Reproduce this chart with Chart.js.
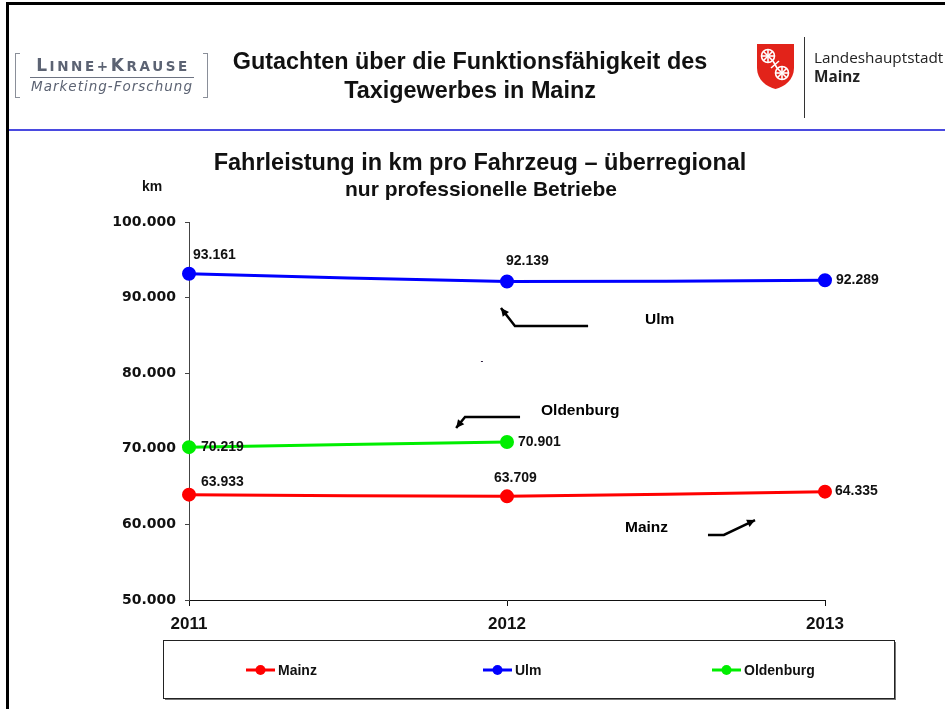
<!DOCTYPE html>
<html>
<head>
<meta charset="utf-8">
<script src="https://cdn.jsdelivr.net/npm/chart.js@4.4.1/dist/chart.umd.min.js"></script>
<style>
  html, body { margin: 0; padding: 0; background: #fff; }
  body { width: 945px; height: 709px; position: relative; overflow: hidden; font-family: "Liberation Sans", Arial, sans-serif; }
  #chart { position: absolute; left: 0; top: 0; }
  .abs { position: absolute; }
  .frame-top { left: 6px; top: 2px; width: 939px; height: 3px; background: #000; }
  .frame-left { left: 6px; top: 2px; width: 3px; height: 707px; background: #000; }
  .blue-rule { left: 9px; top: 129px; width: 936px; height: 2px; background: #4a4ae0; }
  .head-title { left: 170px; width: 600px; top: 47px; text-align: center; font-weight: bold; font-size: 23.4px; line-height: 29px; color: #111; }
  .chart-title { left: 0; width: 960px; top: 148px; text-align: center; font-weight: bold; font-size: 23.5px; line-height: 28px; color: #111; }
  .chart-sub { left: 0; width: 962px; top: 177px; text-align: center; font-weight: bold; font-size: 21px; line-height: 24px; color: #111; }
  .km { left: 142px; top: 178px; font-weight: bold; font-size: 14px; line-height: 16px; color: #111; }
  .lk-brk { top: 53px; width: 4px; height: 43px; border: 1px solid #8a8f99; }
  .lk-brk.l { left: 15px; border-right: none; }
  .lk-brk.r { left: 203px; border-left: none; }
  .lk-name { left: 28px; top: 55px; width: 170px; text-align: center; font-family: "DejaVu Sans", sans-serif; font-weight: bold; font-size: 13.5px; letter-spacing: 2.6px; line-height: 20px; color: #5c6373; }
  .lk-name b { font-size: 17px; }
  .lk-rule { left: 30px; top: 77px; width: 164px; height: 1px; background: #6d7382; }
  .lk-sub { left: 28px; top: 78px; width: 168px; text-align: center; font-family: "DejaVu Sans", sans-serif; font-style: italic; font-size: 13.5px; letter-spacing: 1px; line-height: 16px; color: #5c6373; }
  .mz-bar { left: 804px; top: 37px; width: 1px; height: 81px; background: #333; }
  .mz-t1 { left: 814px; top: 47px; font-family: "Open Sans", sans-serif; font-size: 15.3px; line-height: 20px; color: #222; }
  .mz-t2 { left: 814px; top: 66px; font-family: "Open Sans", sans-serif; font-weight: bold; font-size: 15.3px; line-height: 20px; color: #222; }
</style>
</head>
<body>
<canvas id="chart" width="945" height="709"></canvas>

<div class="abs frame-top"></div>
<div class="abs frame-left"></div>
<div class="abs blue-rule"></div>

<div class="abs lk-brk l"></div>
<div class="abs lk-brk r"></div>
<div class="abs lk-name"><b>L</b>INNE+<b>K</b>RAUSE</div>
<div class="abs lk-rule"></div>
<div class="abs lk-sub">Marketing-Forschung</div>

<div class="abs head-title">Gutachten über die Funktionsfähigkeit des<br>Taxigewerbes in Mainz</div>

<svg class="abs" style="left:757px;top:44px" width="37" height="45" viewBox="0 0 37 45">
  <path d="M0 0 H37 V24 C37 36 27 43 18.5 45 C10 43 0 36 0 24 Z" fill="#e2231a"/>
  <g stroke="#fff" stroke-width="1.6" fill="none">
    <circle cx="11" cy="12" r="6.5"/>
    <circle cx="25" cy="29" r="6.5"/>
    <line x1="11" y1="5.5" x2="11" y2="18.5"/><line x1="4.5" y1="12" x2="17.5" y2="12"/>
    <line x1="6.5" y1="7.5" x2="15.5" y2="16.5"/><line x1="15.5" y1="7.5" x2="6.5" y2="16.5"/>
    <line x1="25" y1="22.5" x2="25" y2="35.5"/><line x1="18.5" y1="29" x2="31.5" y2="29"/>
    <line x1="20.5" y1="24.5" x2="29.5" y2="33.5"/><line x1="29.5" y1="24.5" x2="20.5" y2="33.5"/>
    <line x1="16" y1="17" x2="20" y2="24"/><line x1="14" y1="24" x2="22" y2="17"/>
  </g>
</svg>
<div class="abs mz-bar"></div>
<div class="abs mz-t1">Landeshauptstadt</div>
<div class="abs mz-t2">Mainz</div>

<div class="abs chart-title">Fahrleistung in km pro Fahrzeug – überregional</div>
<div class="abs chart-sub">nur professionelle Betriebe</div>
<div class="abs km">km</div>

<script>
// --- DATA ---
const years = ['2011', '2012', '2013'];
const mainzKm = [63933, 63709, 64335];
const ulmKm = [93161, 92139, 92289];
const oldenburgKm = [70219, 70901, null];
const yTicks = [50000, 60000, 70000, 80000, 90000, 100000];

// label placement next to each point (dx, dy in px)
const labelOffsets = {
  Mainz: [[12, -13], [-13, -18], [10, 0]],
  Ulm: [[4, -19], [-1, -20], [11, 0]],
  Oldenburg: [[12, 0], [11, 0]]
};

// annotation arrows in data space: [x index, km]
const arrows = [
  { text: 'Ulm', at: [1.434, 87040], path: [[1.255, 86240], [1.025, 86240], [0.981, 88620]] },
  { text: 'Oldenburg', at: [1.107, 75000], path: [[1.041, 74210], [0.868, 74210], [0.840, 72750]] },
  { text: 'Mainz', at: [1.371, 59520], path: [[1.632, 58600], [1.682, 58600], [1.780, 60580]] }
];

const legendX = [246, 483, 712];
const fmt = v => Math.round(v).toString().replace(/\B(?=(\d{3})+(?!\d))/g, '.');

const valueLabels = {
  id: 'valueLabels',
  afterDatasetsDraw(chart) {
    const ctx = chart.ctx;
    ctx.save();
    ctx.font = 'bold 14px "Liberation Sans", Arial, sans-serif';
    ctx.fillStyle = '#111';
    ctx.textAlign = 'left';
    ctx.textBaseline = 'middle';
    chart.data.datasets.forEach((ds, i) => {
      const offs = labelOffsets[ds.label] || [];
      chart.getDatasetMeta(i).data.forEach((pt, j) => {
        if (ds.data[j] == null) return;
        const o = offs[j] || [8, 0];
        ctx.fillText(fmt(ds.data[j]), pt.x + o[0], pt.y + o[1]);
      });
    });
    ctx.restore();
  }
};

const annotations = {
  id: 'annotations',
  afterDatasetsDraw(chart) {
    const ctx = chart.ctx, xs = chart.scales.x, ys = chart.scales.y;
    const px = p => [xs.getPixelForValue(p[0]), ys.getPixelForValue(p[1])];
    ctx.save();
    ctx.strokeStyle = '#000';
    ctx.fillStyle = '#000';
    ctx.lineWidth = 2.5;
    arrows.forEach(a => {
      const pts = a.path.map(px);
      ctx.beginPath();
      pts.forEach((p, k) => k ? ctx.lineTo(p[0], p[1]) : ctx.moveTo(p[0], p[1]));
      ctx.stroke();
      const [bx, by] = pts[pts.length - 2], [hx, hy] = pts[pts.length - 1];
      const ang = Math.atan2(hy - by, hx - bx);
      ctx.beginPath();
      ctx.moveTo(hx, hy);
      ctx.lineTo(hx - 8 * Math.cos(ang) + 4 * Math.sin(ang), hy - 8 * Math.sin(ang) - 4 * Math.cos(ang));
      ctx.lineTo(hx - 8 * Math.cos(ang) - 4 * Math.sin(ang), hy - 8 * Math.sin(ang) + 4 * Math.cos(ang));
      ctx.closePath();
      ctx.fill();
      const t = px(a.at);
      ctx.font = 'bold 15.5px "Liberation Sans", Arial, sans-serif';
      ctx.textBaseline = 'middle';
      ctx.fillText(a.text, t[0], t[1]);
    });
    const d = px([0.918, 81614]);
    ctx.fillStyle = '#302040';
    ctx.fillRect(d[0], d[1], 2, 1);
    ctx.restore();
  }
};

const boxLegend = {
  id: 'boxLegend',
  afterDraw(chart) {
    const ctx = chart.ctx;
    ctx.save();
    ctx.fillStyle = '#777';
    ctx.fillRect(165, 698, 731, 2);
    ctx.fillRect(894, 642, 2, 58);
    ctx.strokeStyle = '#222';
    ctx.lineWidth = 1;
    ctx.strokeRect(163.5, 640.5, 731, 58);
    const cy = 670;
    chart.data.datasets.forEach((ds, i) => {
      const x = legendX[i];
      ctx.strokeStyle = ds.borderColor;
      ctx.lineWidth = 3;
      ctx.beginPath(); ctx.moveTo(x, cy); ctx.lineTo(x + 29, cy); ctx.stroke();
      ctx.fillStyle = ds.borderColor;
      ctx.beginPath(); ctx.arc(x + 14.5, cy, 5, 0, Math.PI * 2); ctx.fill();
      ctx.fillStyle = '#111';
      ctx.font = 'bold 14px "Liberation Sans", Arial, sans-serif';
      ctx.textBaseline = 'middle';
      ctx.fillText(ds.label, x + 32, cy + 1);
    });
    ctx.restore();
  }
};

const series = (label, data, color) => ({
  label, data, borderColor: color, backgroundColor: color,
  borderWidth: 3, pointRadius: 5.5, pointHoverRadius: 5.5, tension: 0.2, spanGaps: false
});

new Chart(document.getElementById('chart'), {
  type: 'line',
  data: {
    labels: years,
    datasets: [
      series('Mainz', mainzKm, '#ff0000'),
      series('Ulm', ulmKm, '#0000ff'),
      series('Oldenburg', oldenburgKm, '#00ee00')
    ]
  },
  options: {
    responsive: false,
    animation: false,
    devicePixelRatio: 1,
    layout: { padding: { left: 89, right: 120, top: 222, bottom: 0 } },
    plugins: { legend: { display: false }, title: { display: false }, tooltip: { enabled: false } },
    scales: {
      x: {
        offset: false,
        grid: { drawOnChartArea: false, tickLength: 6, color: '#111' },
        border: { color: '#111', width: 1 },
        ticks: { color: '#111', padding: 8, font: { family: '"Liberation Sans", Arial, sans-serif', weight: 'bold', size: 17 } },
        afterFit: s => { s.height = 109; }
      },
      y: {
        min: yTicks[0], max: yTicks[yTicks.length - 1],
        afterBuildTicks: s => { s.ticks = yTicks.map(v => ({ value: v })); },
        grid: { drawOnChartArea: false, tickLength: 4, color: '#444' },
        border: { color: '#444', width: 1 },
        ticks: { color: '#111', padding: 9, font: { family: '"DejaVu Sans", sans-serif', weight: 'bold', size: 14 }, callback: v => fmt(v) },
        afterFit: s => { s.width = 100; }
      }
    }
  },
  plugins: [valueLabels, annotations, boxLegend]
});
</script>
</body>
</html>
